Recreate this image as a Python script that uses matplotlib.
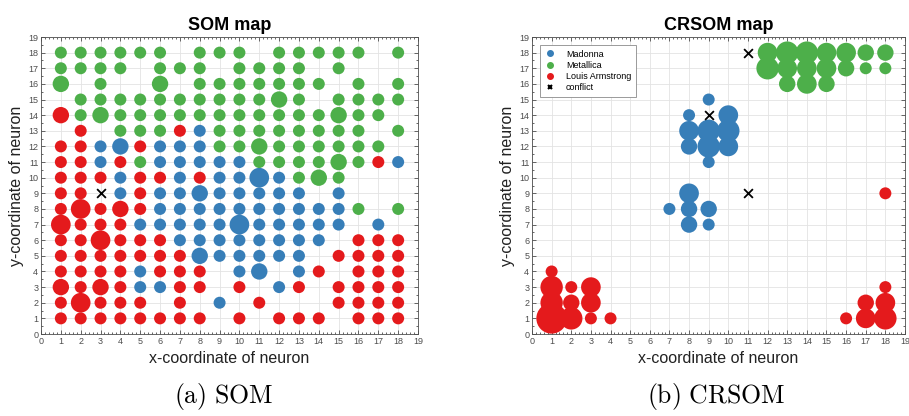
import matplotlib
matplotlib.use("Agg")
import matplotlib.pyplot as plt
from matplotlib.lines import Line2D
from matplotlib.ticker import MultipleLocator

plt.rcParams['font.family'] = ['Liberation Sans', 'DejaVu Sans']
plt.rcParams['mathtext.fontset'] = 'cm'

RED = '#e41a1c'
BLUE = '#377eb8'
GREEN = '#4daf4a'
AXCOL = '#4d4d4d'

# SOM map: one string per neuron row, y=18 at the top down to y=1, x=1..18
# B = Madonna, G = Metallica, R = Louis Armstrong, X = conflict, . = empty
som_labels = [
    "GGGGGG.GGG.GGGGG.G",
    "GGGG.GGG.GGGG.G...",
    "G.G..G.GGGGGGG.G.G",
    ".GGGGGGGGGGGG.GGGG",
    "RGGGGGGGGGGGGGGGG.",
    ".R.GGGRBGGGGGGGG.G",
    "RRBBRBBBGGGGGGGGG.",
    "RRBRGBBBBBGGGGGGRB",
    "RRRBRRBRBBBBGGG...",
    "RRXBRBBBBBBBB.B...",
    "RRRRRBBBBBBBBBBG.G",
    "RRRRBBBBBBBBBBB.B.",
    "RRRRRRBBBBBBBB.RRR",
    "RRRRRRRBBBBBB.RRRR",
    "RRRRBRRR.BB.BR.RRR",
    "RRRRBBRR.R.BR.RRRR",
    "RRRRR.R.B.R...RRRR",
    "RRRRRRRR.R.RRR.RRR",
]
# number of hits per neuron, same layout
som_hits = [
    "111111.111.11111.1",
    "1111.111.1111.1...",
    "2.1..2.1111111.1.1",
    ".111111111121.1111",
    "21211111111111211.",
    ".1.1111111111111.1",
    "11121111112111111.",
    "111111111111112111",
    "111111111131121...",
    "1111111211111.1...",
    "1312111111111111.1",
    "311111111311111.1.",
    "11311111111111.111",
    "1111111211111.1111",
    "11111111.12.11.111",
    "21211111.1.11.1111",
    "13111.1.1.1...1111",
    "11111111.1.111.111",
]

# CRSOM map
madonna_x = [9, 8, 8, 9, 10, 10, 8, 9, 10, 9, 7, 8, 8, 8, 9, 9]
madonna_y = [15, 14, 13, 13, 14, 13, 12, 12, 12, 11, 8, 9, 8, 7, 8, 7]
madonna_hits = [1, 1, 3, 4, 3, 4, 2, 4, 3, 1, 1, 3, 2, 2, 2, 1]

metallica_x = [12, 12, 13, 13, 13, 14, 14, 14, 15, 15, 15, 16, 16, 17, 17, 18, 18]
metallica_y = [18, 17, 18, 17, 16, 18, 17, 16, 18, 17, 16, 18, 17, 18, 17, 18, 17]
metallica_hits = [3, 4, 4, 3, 2, 4, 3, 3, 3, 3, 2, 3, 2, 2, 1, 2, 1]

armstrong_x = [1, 1, 1, 1, 2, 2, 2, 3, 3, 3, 4, 16, 17, 17, 18, 18, 18, 18]
armstrong_y = [4, 3, 2, 1, 3, 2, 1, 3, 2, 1, 1, 1, 1, 2, 1, 2, 3, 9]
armstrong_hits = [1, 4, 4, 8, 1, 2, 4, 3, 3, 1, 1, 1, 3, 2, 4, 3, 1, 1]

conflict_x = [9, 11, 11]
conflict_y = [14, 18, 9]

legend_names = ['Madonna', 'Metallica', 'Louis Armstrong', 'conflict']


def msize(hits):
    # marker area grows with the number of hits
    return [74.6 * h ** 0.9 for h in hits]


def style_axes(ax, title):
    ax.set_xlim(0, 19)
    ax.set_ylim(0, 19)
    ax.xaxis.set_major_locator(MultipleLocator(1))
    ax.yaxis.set_major_locator(MultipleLocator(1))
    ax.xaxis.set_minor_locator(MultipleLocator(0.2))
    ax.yaxis.set_minor_locator(MultipleLocator(0.5))
    ax.tick_params(which='both', direction='in', top=True, right=True,
                   colors=AXCOL, labelsize=6.5, width=0.6, pad=2)
    ax.tick_params(which='major', length=3)
    ax.tick_params(which='minor', length=1.5)
    ax.grid(True, which='major', color='#e3e3e3', lw=0.6)
    ax.set_axisbelow(True)
    for sp in ax.spines.values():
        sp.set_color(AXCOL)
        sp.set_linewidth(0.6)
    ax.set_title(title, fontsize=13, fontweight='bold', pad=5)
    ax.set_xlabel('x-coordinate of neuron', fontsize=11.5, color='#222222')
    ax.set_ylabel('y-coordinate of neuron', fontsize=11.5, color='#222222')
    ax.xaxis.set_label_coords(0.5, -0.058)
    ax.yaxis.set_label_coords(-0.045, 0.5)


fig = plt.figure(figsize=(9.09, 4.16), dpi=100)
ax1 = fig.add_axes([41 / 909, 82 / 416, 377 / 909, 297 / 416])
ax2 = fig.add_axes([532 / 909, 82 / 416, 373 / 909, 297 / 416])

# SOM map
colors = {'B': BLUE, 'G': GREEN, 'R': RED}
for cls in ['B', 'G', 'R']:
    xs, ys, hs = [], [], []
    for i, row in enumerate(som_labels):
        for j, c in enumerate(row):
            if c == cls:
                xs.append(j + 1)
                ys.append(18 - i)
                hs.append(int(som_hits[i][j]))
    ax1.scatter(xs, ys, s=msize(hs), c=colors[cls], linewidths=0, zorder=3)
cx, cy = [], []
for i, row in enumerate(som_labels):
    for j, c in enumerate(row):
        if c == 'X':
            cx.append(j + 1)
            cy.append(18 - i)
ax1.scatter(cx, cy, marker='x', s=40, c='k', linewidths=1.3, zorder=4)
style_axes(ax1, 'SOM map')

# CRSOM map
ax2.scatter(madonna_x, madonna_y, s=msize(madonna_hits), c=BLUE, linewidths=0, zorder=3)
ax2.scatter(metallica_x, metallica_y, s=msize(metallica_hits), c=GREEN, linewidths=0, zorder=3)
ax2.scatter(armstrong_x, armstrong_y, s=msize(armstrong_hits), c=RED, linewidths=0, zorder=3)
ax2.scatter(conflict_x, conflict_y, marker='x', s=40, c='k', linewidths=1.3, zorder=4)
style_axes(ax2, 'CRSOM map')

handles = [
    Line2D([], [], ls='', marker='o', ms=4, color=BLUE),
    Line2D([], [], ls='', marker='o', ms=4, color=GREEN),
    Line2D([], [], ls='', marker='o', ms=4, color=RED),
    Line2D([], [], ls='', marker='x', ms=3.5, mew=1.5, color='k'),
]
leg = ax2.legend(handles, legend_names, loc='upper left',
                 bbox_to_anchor=(0.021, 0.973), fontsize=6.5, frameon=True,
                 fancybox=False, edgecolor='#8a8a8a', framealpha=1,
                 borderpad=0.5, labelspacing=0.25, handlelength=1.2,
                 handletextpad=1.2, borderaxespad=0)
leg.get_frame().set_linewidth(0.6)

fig.text(224 / 909, 0.046, r'$\mathrm{(a)\ SOM}$', fontsize=18.5, ha='center', va='center')
fig.text(716 / 909, 0.046, r'$\mathrm{(b)\ CRSOM}$', fontsize=18.5, ha='center', va='center')

fig.savefig('out.png', dpi=100)
